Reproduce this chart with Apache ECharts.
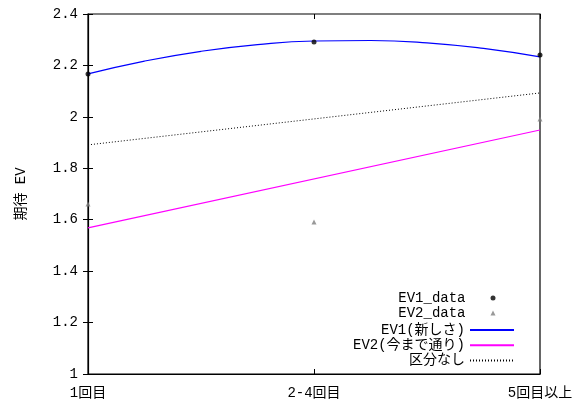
<!DOCTYPE html>
<html>
<head>
<meta charset="utf-8">
<script src="https://cdn.jsdelivr.net/npm/echarts@6/dist/echarts.min.js"></script>
<style>
  html, body { margin: 0; padding: 0; background: #fff; }
  #chart { width: 585px; height: 403px; }
</style>
</head>
<body>
<div id="chart"></div>
<script>
// カテゴリ (x = 0, 1, 2)
var categories = ["1回目", "2-4回目", "5回目以上"];

// 実測点
var ev1Data = [[0, 2.167], [1, 2.291], [2, 2.241]];
var ev2Data = [[0, 1.661], [1, 1.591], [2, 1.992]];

// 曲線 (図から読み取った値, x = 0, 0.25, ... 2)
var curveX = [0, 0.25, 0.5, 0.75, 1, 1.25, 1.5, 1.75, 2];
var ev1Curve = [2.167, 2.217, 2.255, 2.281, 2.295, 2.297, 2.288, 2.266, 2.233];
var ev2Line = [[0, 1.568], [2, 1.949]];
var flatLine = [[0, 1.891], [2, 2.093]];

var yTicks = { min: 1, max: 2.4, interval: 0.2 };

var FONT = "'Liberation Mono', 'Noto Sans CJK JP', monospace";

function zip(xs, ys) {
  return xs.map(function (x, i) { return [x, ys[i]]; });
}

var chart = echarts.init(document.getElementById("chart"));
chart.setOption({
  animation: false,
  textStyle: { fontFamily: FONT },
  grid: {
    left: 88, right: 45, top: 14, bottom: 29,
    show: true, borderColor: "#000", borderWidth: 1.2
  },
  xAxis: [
    {
      type: "value", min: 0, max: 2, interval: 1,
      axisLine: { show: true, lineStyle: { color: "#000", width: 1.2 } },
      axisTick: { inside: true, length: 5, lineStyle: { color: "#000" } },
      splitLine: { show: false },
      axisLabel: {
        color: "#000", fontSize: 14, fontFamily: FONT, margin: 12,
        formatter: function (v) { return categories[Math.round(v)] || ""; }
      }
    },
    {
      type: "value", min: 0, max: 2, interval: 1, position: "top",
      axisLine: { show: false },
      axisTick: { inside: true, length: 5, lineStyle: { color: "#000" } },
      splitLine: { show: false },
      axisLabel: { show: false }
    }
  ],
  yAxis: [
    {
      type: "value", min: yTicks.min, max: yTicks.max, interval: yTicks.interval,
      name: "期待 EV", nameLocation: "middle", nameGap: 60, nameRotate: 90,
      nameTextStyle: { color: "#000", fontSize: 14, fontFamily: FONT },
      axisLine: { show: true, lineStyle: { color: "#000", width: 1.2 } },
      axisTick: { inside: true, length: 5, lineStyle: { color: "#000" } },
      splitLine: { show: false },
      axisLabel: { color: "#000", fontSize: 14, fontFamily: FONT, margin: 10 }
    },
    {
      type: "value", min: yTicks.min, max: yTicks.max, interval: yTicks.interval,
      position: "right",
      axisLine: { show: false },
      axisTick: { inside: true, length: 5, lineStyle: { color: "#000" } },
      splitLine: { show: false },
      axisLabel: { show: false }
    }
  ],
  legend: [
    {
      // 点のみの凡例: アイコンを線サンプルの中央に置き、文字との間は padding で確保
      orient: "vertical", align: "right", right: 84.5, top: 286,
      itemWidth: 5, itemHeight: 5, itemGap: 1,
      textStyle: { color: "#000", fontSize: 14, fontFamily: FONT, padding: [0, 20, 0, 0] },
      data: [
        { name: "EV1_data", icon: "circle" },
        { name: "EV2_data", icon: "triangle" }
      ]
    },
    {
      orient: "vertical", align: "right", right: 65, top: 318,
      itemWidth: 44, itemHeight: 5, itemGap: 1.2,
      itemStyle: { opacity: 0 },
      textStyle: { color: "#000", fontSize: 14, fontFamily: FONT },
      data: ["EV1(新しさ)", "EV2(今まで通り)", "区分なし"]
    }
  ],
  series: [
    {
      name: "EV1(新しさ)", type: "line", smooth: true, symbol: "none",
      lineStyle: { color: "#0000ff", width: 1.2 }, itemStyle: { color: "#0000ff" },
      data: zip(curveX, ev1Curve)
    },
    {
      name: "EV2(今まで通り)", type: "line", symbol: "none",
      lineStyle: { color: "#ff00ff", width: 1.2 }, itemStyle: { color: "#ff00ff" },
      data: ev2Line
    },
    {
      name: "区分なし", type: "line", symbol: "none",
      lineStyle: { color: "#000", width: 1, type: [1, 2] }, itemStyle: { color: "#000" },
      data: flatLine
    },
    {
      name: "EV1_data", type: "scatter", symbol: "circle", symbolSize: 5,
      itemStyle: { color: "#000" }, z: 5,
      data: ev1Data
    },
    {
      name: "EV2_data", type: "scatter", symbol: "triangle", symbolSize: 5,
      itemStyle: { color: "#808080" }, z: 5,
      data: ev2Data
    }
  ]
});
</script>
</body>
</html>
